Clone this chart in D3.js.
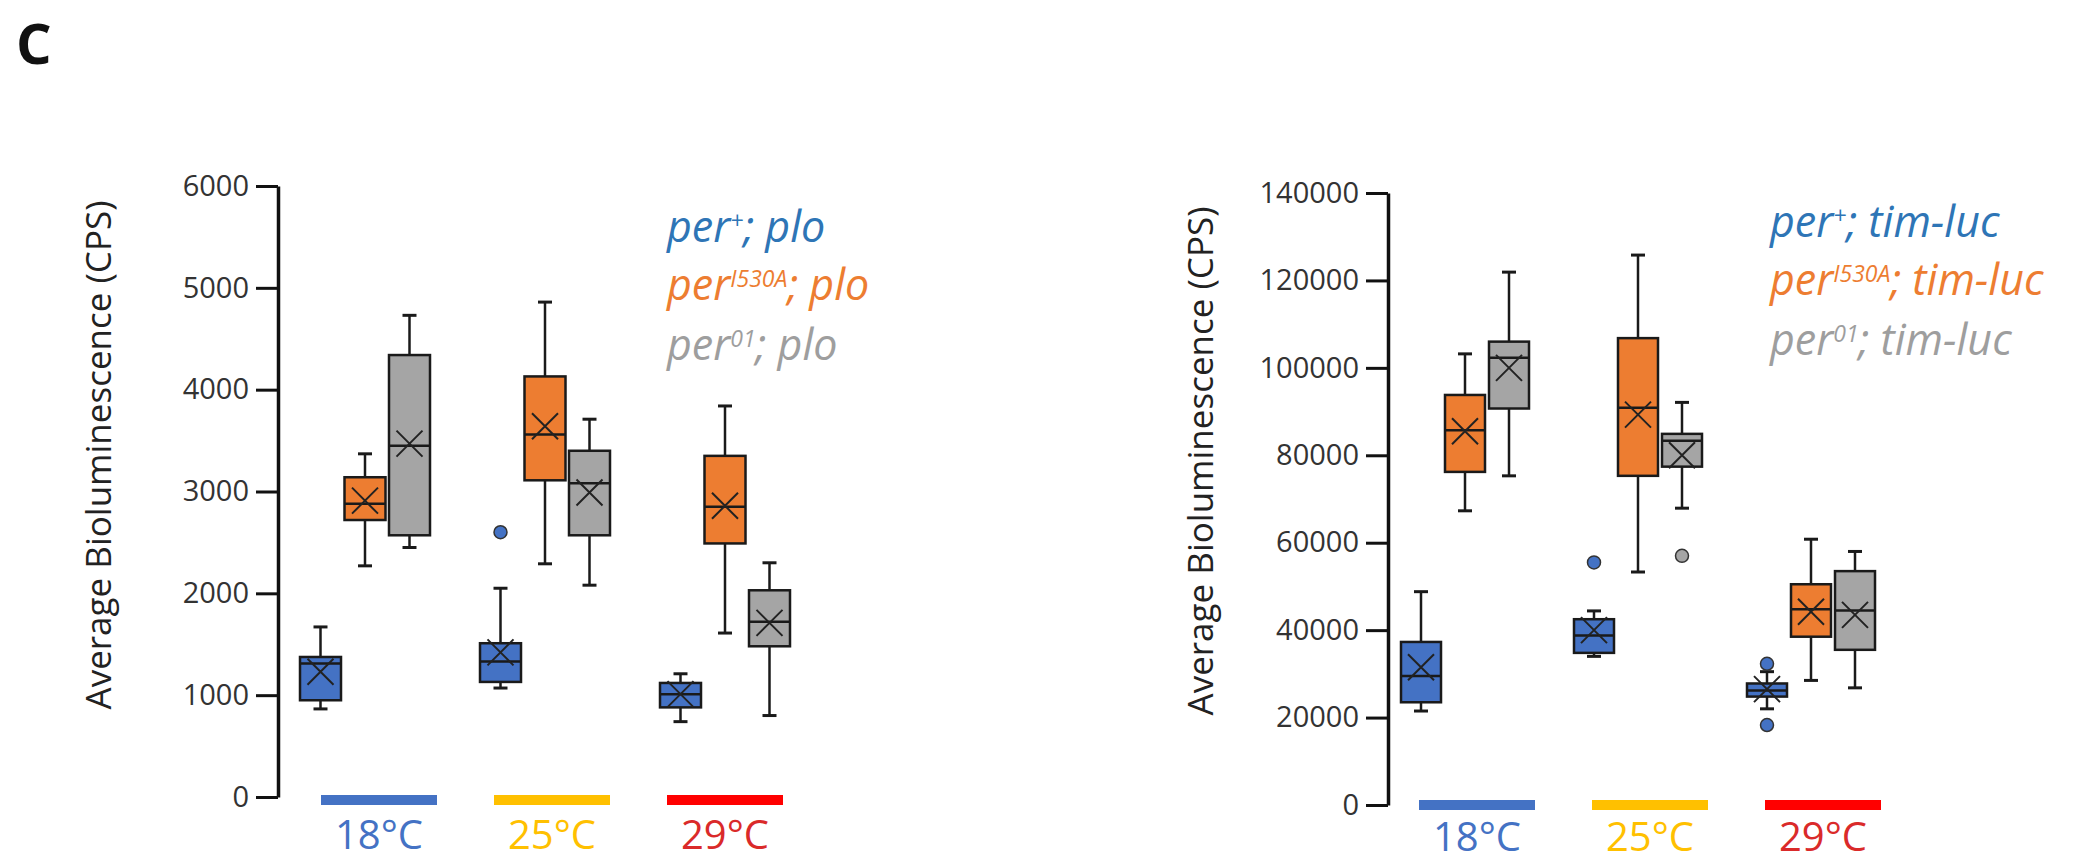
<!DOCTYPE html>
<html>
<head>
<meta charset="utf-8">
<title>Average Bioluminescence by temperature</title>
<style>
  body { margin: 0; background: #fff; }
  svg { display: block; font-family: "Open Sans", "Noto Sans", sans-serif; }
</style>
<script src="https://cdn.jsdelivr.net/npm/d3@7"></script>
</head>
<body>
<svg id="chart" width="2075" height="863"></svg>
<script>
// categories
var temps = ["18°C", "25°C", "29°C"];
var tempBarColors = ["#4472C4", "#FFC000", "#FF0000"];
var tempTextColors = ["#4472C4", "#FFC000", "#DA2A2A"];
var boxColors = ["#4472C4", "#ED7D31", "#A5A5A5"];
var legendColors = ["#2E75B6", "#ED7D31", "#9E9E9E"];
var genotypeSup = ["+", "I530A", "01"];

// each row: [whisker low, Q1, median, Q3, whisker high, mean] for 18, 25, 29 °C
var ploWT    = [[865, 950, 1310, 1375, 1670, 1230], [1070, 1130, 1330, 1510, 2050, 1420], [740, 880, 1010, 1120, 1210, 1010]];
var ploI530A = [[2270, 2720, 2880, 3140, 3370, 2910], [2290, 3110, 3560, 4130, 4860, 3640], [1610, 2490, 2850, 3350, 3840, 2860]];
var plo01    = [[2450, 2570, 3450, 4340, 4730, 3470], [2080, 2570, 3080, 3400, 3710, 2990], [800, 1480, 1720, 2030, 2300, 1710]];
var ploOutWT = [[], [2600], []];
var ploOutI530A = [[], [], []];
var ploOut01 = [[], [], []];
var ploTicks = [0, 1000, 2000, 3000, 4000, 5000, 6000];

var timWT    = [[21500, 23500, 29500, 37300, 48800, 31500], [34000, 34800, 38800, 42500, 44400, 40000], [22000, 24800, 26200, 27800, 30500, 26500]];
var timI530A = [[67300, 76200, 85700, 93800, 103200, 85500], [53300, 75300, 90900, 106800, 125800, 89300], [28500, 38500, 44800, 50500, 60800, 44200]];
var tim01    = [[75300, 90700, 102300, 106000, 121900, 100000], [67900, 77400, 83300, 84900, 92100, 80000], [26800, 35500, 44500, 53500, 58000, 43500]];
var timOutWT = [[], [55500], [32300, 18300]];
var timOutI530A = [[], [], []];
var timOut01 = [[], [57000], []];
var timTicks = [0, 20000, 40000, 60000, 80000, 100000, 120000, 140000];

var svg = d3.select("#chart");

svg.append("text")
  .attr("x", 16).attr("y", 64)
  .style("font-size", "56px").style("font-weight", "bold").attr("fill", "#111")
  .text("C");

function drawChart(cfg) {
  var g = svg.append("g");
  var y = d3.scaleLinear().domain([0, cfg.max]).range([cfg.yBottom, cfg.yTop]);
  var x = d3.scalePoint().domain(temps).range(cfg.groupRange);
  var inner = d3.scalePoint().domain([0, 1, 2]).range([-cfg.boxStep, cfg.boxStep]);
  var xb = d3.scalePoint().domain(temps).range(cfg.barRange);

  // axis
  var ax = g.append("g")
    .attr("transform", "translate(" + cfg.axisX + ",0)")
    .call(d3.axisLeft(y).tickValues(cfg.ticks).tickSize(22).tickSizeOuter(0)
      .tickPadding(7).tickFormat(d3.format("d")));
  ax.select(".domain").attr("stroke", "#111").attr("stroke-width", 3.5);
  ax.selectAll(".tick line").attr("stroke", "#111").attr("stroke-width", 3);
  ax.selectAll(".tick text").attr("fill", "#333").style("font-size", "29px")
    .style("font-family", "'Open Sans', sans-serif");

  g.append("text")
    .attr("transform", "translate(" + cfg.labelX + "," + cfg.labelY + ") rotate(-90)")
    .attr("text-anchor", "middle")
    .style("font-size", "35px").attr("fill", "#222")
    .text("Average Bioluminescence (CPS)");

  // boxes
  cfg.series.forEach(function(rows, s) {
    rows.forEach(function(d, i) {
      var cx = x(temps[i]) + inner(s);
      var hw = cfg.boxWidth / 2;
      var bg = g.append("g");
      var ink = "#1a1a1a";
      bg.append("line").attr("x1", cx).attr("x2", cx).attr("y1", y(d[3])).attr("y2", y(d[4]))
        .attr("stroke", ink).attr("stroke-width", 2.5);
      bg.append("line").attr("x1", cx).attr("x2", cx).attr("y1", y(d[1])).attr("y2", y(d[0]))
        .attr("stroke", ink).attr("stroke-width", 2.5);
      [d[0], d[4]].forEach(function(v) {
        bg.append("line").attr("x1", cx - 7).attr("x2", cx + 7).attr("y1", y(v)).attr("y2", y(v))
          .attr("stroke", ink).attr("stroke-width", 3);
      });
      bg.append("rect")
        .attr("x", cx - hw).attr("width", cfg.boxWidth)
        .attr("y", y(d[3])).attr("height", y(d[1]) - y(d[3]))
        .attr("fill", boxColors[s]).attr("stroke", ink).attr("stroke-width", 2.5);
      bg.append("line").attr("x1", cx - hw).attr("x2", cx + hw).attr("y1", y(d[2])).attr("y2", y(d[2]))
        .attr("stroke", ink).attr("stroke-width", 2.5);
      var m = y(d[5]), r = 13;
      bg.append("path")
        .attr("d", "M" + (cx - r) + "," + (m - r) + "L" + (cx + r) + "," + (m + r) +
                   "M" + (cx - r) + "," + (m + r) + "L" + (cx + r) + "," + (m - r))
        .attr("stroke", "#222").attr("stroke-width", 2);
      cfg.outliers[s][i].forEach(function(v) {
        bg.append("circle").attr("cx", cx).attr("cy", y(v)).attr("r", 6.5)
          .attr("fill", boxColors[s]).attr("stroke", "#333").attr("stroke-width", 1.5);
      });
    });
  });

  // temperature bars and labels
  temps.forEach(function(t, i) {
    g.append("rect")
      .attr("x", xb(t) - 58).attr("width", 116)
      .attr("y", cfg.yBottom + cfg.barShift - 5).attr("height", 10)
      .attr("fill", tempBarColors[i]);
    g.append("text")
      .attr("x", xb(t)).attr("y", cfg.tempLabelY)
      .attr("text-anchor", "middle")
      .style("font-size", "40px").attr("fill", tempTextColors[i])
      .text(t);
  });

  // legend
  genotypeSup.forEach(function(sup, s) {
    var t = g.append("text")
      .attr("x", cfg.legendX).attr("y", cfg.legendY[s])
      .style("font-size", "43px").style("font-style", "italic")
      .attr("fill", legendColors[s]);
    t.append("tspan").text("per");
    t.append("tspan").attr("dy", -13).style("font-size", "23px").text(sup);
    t.append("tspan").attr("dy", 13).text("; " + cfg.reporter);
  });
}

drawChart({
  max: 6000, ticks: ploTicks, yBottom: 797, yTop: 186, axisX: 278,
  groupRange: [365, 725], boxStep: 44.5, boxWidth: 41, barRange: [379, 725], barShift: 3,
  labelX: 111, labelY: 455, tempLabelY: 849,
  legendX: 667, legendY: [242, 300, 360], reporter: "plo",
  series: [ploWT, ploI530A, plo01],
  outliers: [ploOutWT, ploOutI530A, ploOut01]
});

drawChart({
  max: 140000, ticks: timTicks, yBottom: 805, yTop: 193, axisX: 1388,
  groupRange: [1465, 1811], boxStep: 44, boxWidth: 40, barRange: [1477, 1823], barShift: 0,
  labelX: 1213, labelY: 461, tempLabelY: 851,
  legendX: 1770, legendY: [237, 295, 355], reporter: "tim-luc",
  series: [timWT, timI530A, tim01],
  outliers: [timOutWT, timOutI530A, timOut01]
});
</script>
</body>
</html>
